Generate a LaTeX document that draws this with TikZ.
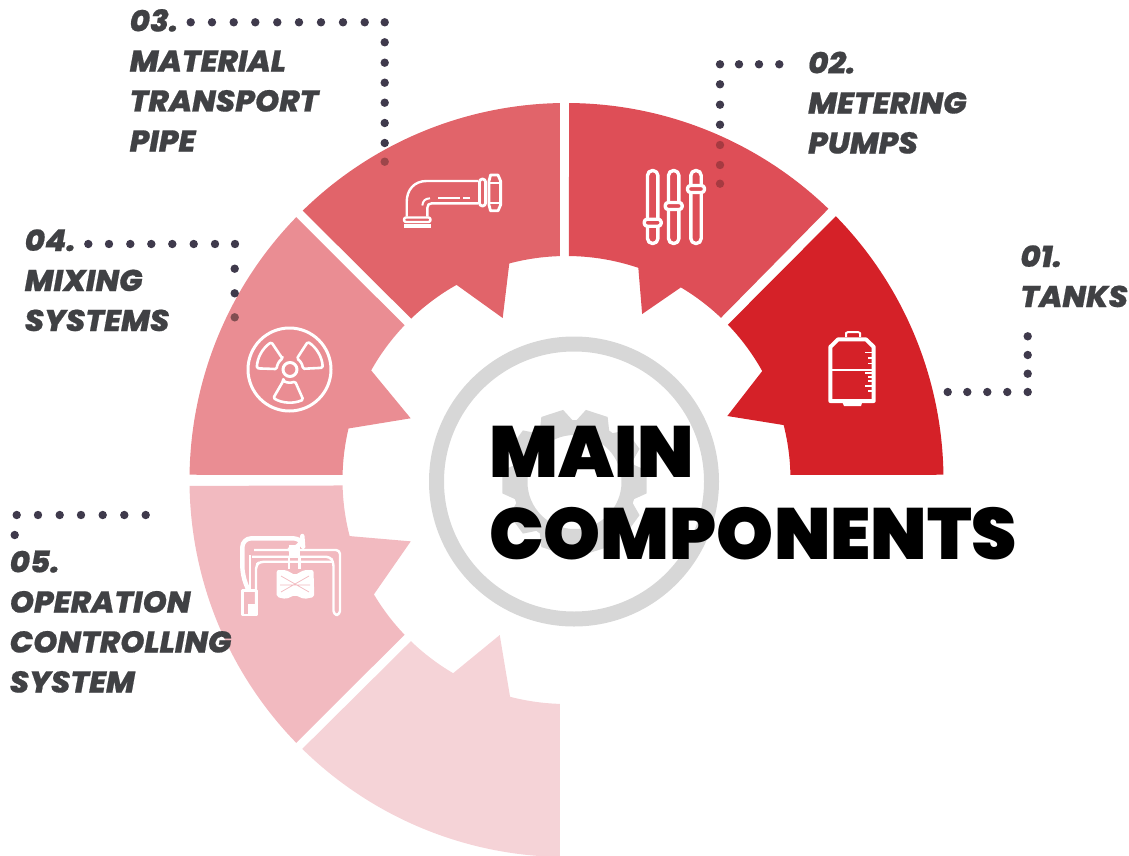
\documentclass[tikz,border=0pt]{standalone}
\usepackage{fontspec}
\newfontfamily\headfont{Poppins Black}
\newfontfamily\labelfont[FakeStretch=1.03,FakeBold=.6]{Poppins ExtraBold Italic}
\definecolor{tankred}{HTML}{D52128}
\definecolor{meterred}{HTML}{DE4E57}
\definecolor{pipered}{HTML}{E1646A}
\definecolor{mixpink}{HTML}{EA8D93}
\definecolor{opink}{HTML}{F2BAC0}
\definecolor{lastpink}{HTML}{F5D3D7}
\definecolor{gearfill}{HTML}{D7D7D7}
\definecolor{dotgray}{HTML}{3F3A4C}
\definecolor{labelgray}{HTML}{404144}
\tikzset{
  iconline/.style={draw=white,line width=2.6pt,line join=round},
  leaderdot/.style={fill=dotgray},
  labeltext/.style={anchor=base west,inner sep=0pt,align=left,text=labelgray,
    font=\labelfont\fontsize{30}{40}\selectfont},
  titletext/.style={anchor=base west,inner sep=0pt,align=left,text=black,
    font=\headfont\fontsize{72.5}{82}\selectfont}
}
\begin{document}
\begin{tikzpicture}[x=1pt,y=-1pt]
  \useasboundingbox (0,0) rectangle (1129,856);
  % segments round the gear
  \begin{scope}[shift={(566.5,480)}]
    \fill[tankred] (44.4:377pt) arc[start angle=44.4,end angle=.8,radius=377pt] -- (1.3:224pt)
      arc[start angle=1.3,end angle=14.2,radius=224pt] -- (21.7:173.1pt) -- (29.1:224pt)
      arc[start angle=29.1,end angle=43.9,radius=224pt] -- cycle;
    \fill[meterred] (89.6:377pt) arc[start angle=89.6,end angle=46,radius=377pt] -- (46.4:224pt)
      arc[start angle=46.4,end angle=59.3,radius=224pt] -- (65.5:182.4pt) -- (71.3:224pt)
      arc[start angle=71.3,end angle=89.4,radius=224pt] -- cycle;
    \fill[pipered] (91:377pt) arc[start angle=91,end angle=134.4,radius=377pt] -- (133.9:224pt)
      arc[start angle=133.9,end angle=119.4,radius=224pt] -- (111.5:174.1pt) -- (104.8:224pt)
      arc[start angle=104.8,end angle=91.7,radius=224pt] -- cycle;
    \fill[mixpink] (135.8:377pt) arc[start angle=135.8,end angle=179.2,radius=377pt] -- (178.7:224pt)
      arc[start angle=178.7,end angle=166.7,radius=224pt] -- (158.4:167.6pt) -- (150.7:224pt)
      arc[start angle=150.7,end angle=136.3,radius=224pt] -- cycle;
    \fill[opink] (180.9:377pt) arc[start angle=180.9,end angle=224.2,radius=377pt] -- (223.7:224pt)
      arc[start angle=223.7,end angle=210.7,radius=224pt] -- (201.5:167.4pt) -- (194.5:224pt)
      arc[start angle=194.5,end angle=181.4,radius=224pt] -- cycle;
    \fill[lastpink] (225.5:377pt) arc[start angle=225.5,end angle=269,radius=377pt] -- (268.3:224pt)
      arc[start angle=268.3,end angle=255.4,radius=224pt] -- (246.7:168.8pt) -- (239.6:224pt)
      arc[start angle=239.6,end angle=226,radius=224pt] -- cycle;
  \end{scope}
  % ring and gear in the middle
  \draw[gearfill,line width=15pt] (574,481.5) circle(137.5);
  \begin{scope}[shift={(574.5,482)}]
    \fill[gearfill,even odd rule] (-16:62pt)
      \foreach \a in {0,36,...,324} {
        -- (\a-16:62pt) -- (\a-9:73pt) -- (\a+9:73pt) -- (\a+16:62pt)
      } -- cycle (0,0) circle(47);
  \end{scope}
  % tank
  \draw[iconline,line width=4pt] (838,339.4) -- (866,339.4) -- (873.7,347) -- (873.7,401) -- (830.3,401) -- (830.3,347) -- cycle;
  \draw[iconline,line width=2pt] (846,337) -- (846,333) -- (848,332) -- (858,332) -- (860,333) -- (860,337);
  \draw[iconline,line width=2pt] (830,370) -- (874,370);
  \fill[white] (842.3,402) -- (862.3,402) -- (861,406) -- (844,406) -- cycle;
  \foreach \y/\l in {352.3/8,357.7/5,363.3/5,372.7/8,376.7/5,380.7/5,385.7/8,390.7/5}
    \draw[white,line width=1.6pt] (873,\y) -- (873-\l,\y);
  % sliders
  \foreach \x/\y in {652.7/222.7,673.7/206,696/189} {
    \draw[iconline,line width=3.4pt,rounded corners=5pt] (\x-5.2,170.5) rectangle (\x+5.2,243.5);
    \draw[iconline,line width=3.4pt,fill=meterred,rounded corners=3pt] (\x-8.5,\y-3.5) rectangle (\x+8.5,\y+3.5);
  }
  % pipe
  \draw[iconline,line width=2.4pt] (478.3,181) -- (426.7,181) .. controls (414,181) and (406.7,190) .. (406.7,202) -- (406.7,216.7);
  \draw[iconline,line width=2.4pt] (478.3,203.3) -- (431.7,203.3) .. controls (429,203.3) and (427.3,205) .. (427.3,208) -- (427.3,216.7);
  \draw[iconline,line width=2pt] (438.3,198.3) -- (460,198.3) (463.3,198.3) -- (470,198.3);
  \draw[iconline,line width=2pt] (422.3,205.5) .. controls (422.8,201) and (425,198.5) .. (430,198.3);
  \draw[iconline,line width=2.4pt,rounded corners=2pt] (404,217.5) rectangle (430.5,222);
  \fill[white] (404,223.5) rectangle (430.5,228.3);
  \draw[iconline,line width=2.8pt,rounded corners=3pt] (479.4,179) rectangle (485.6,206);
  \draw[iconline,line width=2.8pt] (490.5,175) -- (498,175) -- (500.6,181) -- (500.6,205) -- (498,210.8) -- (490.5,210.8) -- (489,205) -- (489,181) -- cycle;
  \draw[iconline,line width=2.2pt] (489,183) -- (500.5,183) (489,203) -- (500.5,203);
  % radiation sign
  \draw[iconline,line width=3pt] (289.5,369.5) circle(41.5);
  \draw[iconline,line width=3pt] (290,369.5) circle(7);
  \begin{scope}[shift={(289.8,369.5)}]
    \foreach \a in {30,151,267} {
      \draw[iconline,rounded corners=1.5pt] (\a-27:13pt) -- (\a-27:33pt)
        arc[start angle=\a-27,end angle=\a+27,radius=33pt] -- (\a+27:13pt)
        arc[start angle=\a+27,end angle=\a-27,radius=13pt] -- cycle;
    }
  \end{scope}
  % valve
  \draw[iconline,line width=4.4pt,rounded corners=9pt] (248.3,590) -- (242.3,575) -- (242.3,538.3) -- (302.5,538.3) -- (303,545) -- (288.3,550);
  \draw[iconline,line width=2.4pt,rounded corners=4pt] (254,550) -- (340,550) -- (340,615) -- (333.5,615) -- (333.5,562) -- (330,556.7) -- (252,556.7);
  \draw[iconline,line width=2.4pt,rounded corners=4pt] (256,615) -- (256,565) -- (260,561.7) -- (333,561.7);
  \draw[iconline,line width=2.4pt] (250,555) -- (250,590);
  \draw[iconline,line width=2.6pt] (242.3,590.5) rectangle (256.7,615);
  \fill[white] (248,604) rectangle (256,615);
  \fill[white] (288.5,545) rectangle (300,556);
  \draw[iconline,line width=2.4pt] (289,556) -- (289,569) (299.5,556) -- (299.5,569) (289,562) -- (299.5,562);
  \fill[white,rounded corners=2pt] (276.7,570) -- (286,570) -- (295,575) -- (304,570) -- (313.5,570) -- (314.3,597) -- (304,599) -- (295,595) -- (286,599) -- (276.7,597) -- cycle;
  \draw[opink,line width=.7pt] (281,576) -- (309,592) (309,576) -- (281,592) (280,585) -- (310,585);
  % leaders
  \foreach \x/\y in {1027.7/336.3,1027.7/355,1027.7/373.7,1027.7/392,1007.3/392,987.3/392,967.3/392,947.7/392,
    779.3/64.3,759/64.3,739/64.3,720/64.3,720/84.3,720/104.7,720/124.7,
    190.7/22.3,212/22.3,233.7/22.3,255.3/22.3,277.3/22.3,299/22.3,321/22.3,343/22.3,364.7/22.3,384.7/22.3,
    384.7/42.3,384.7/62.7,384.7/82.7,384.7/102.7,384.7/123,384.7/143,
    88.3/244,109/244,130.3/244,151.3/244,172.3/244,193.7/244,215/244,235/244,234.7/268.7,234.7/293.3,
    16.7/515,38/515,59.7/515,81/515,102.7/515,124.3/515,145.7/515,14.7/535}
    \fill[leaderdot] (\x,\y) circle(4.2);
  \foreach \y in {145,165,183.7} \fill[fill=meterred!75!black] (720,\y) circle(4.2);
  \fill[fill=pipered!70!black] (384.7,161.7) circle(4.2);
  \fill[fill=mixpink!55!black] (234.7,317.3) circle(4.2);
  % labels
  \node[labeltext] (tanks) at (1020.2,307) {01.\\TANKS};
  \node[labeltext] (pumps) at (808,153.5) {02.\\METERING\\PUMPS};
  \node[labeltext] (pipe) at (129.5,151.5) {03.\\MATERIAL\\TRANSPORT\\PIPE};
  \node[labeltext] (mixing) at (24.5,331) {04.\\MIXING\\SYSTEMS};
  \node[labeltext] (control) at (9.5,692.5) {05.\\OPERATION\\CONTROLLING\\SYSTEM};
  \node[titletext] (title) at (489,559) {MAIN\\COMPONENTS};
\end{tikzpicture}
\end{document}
